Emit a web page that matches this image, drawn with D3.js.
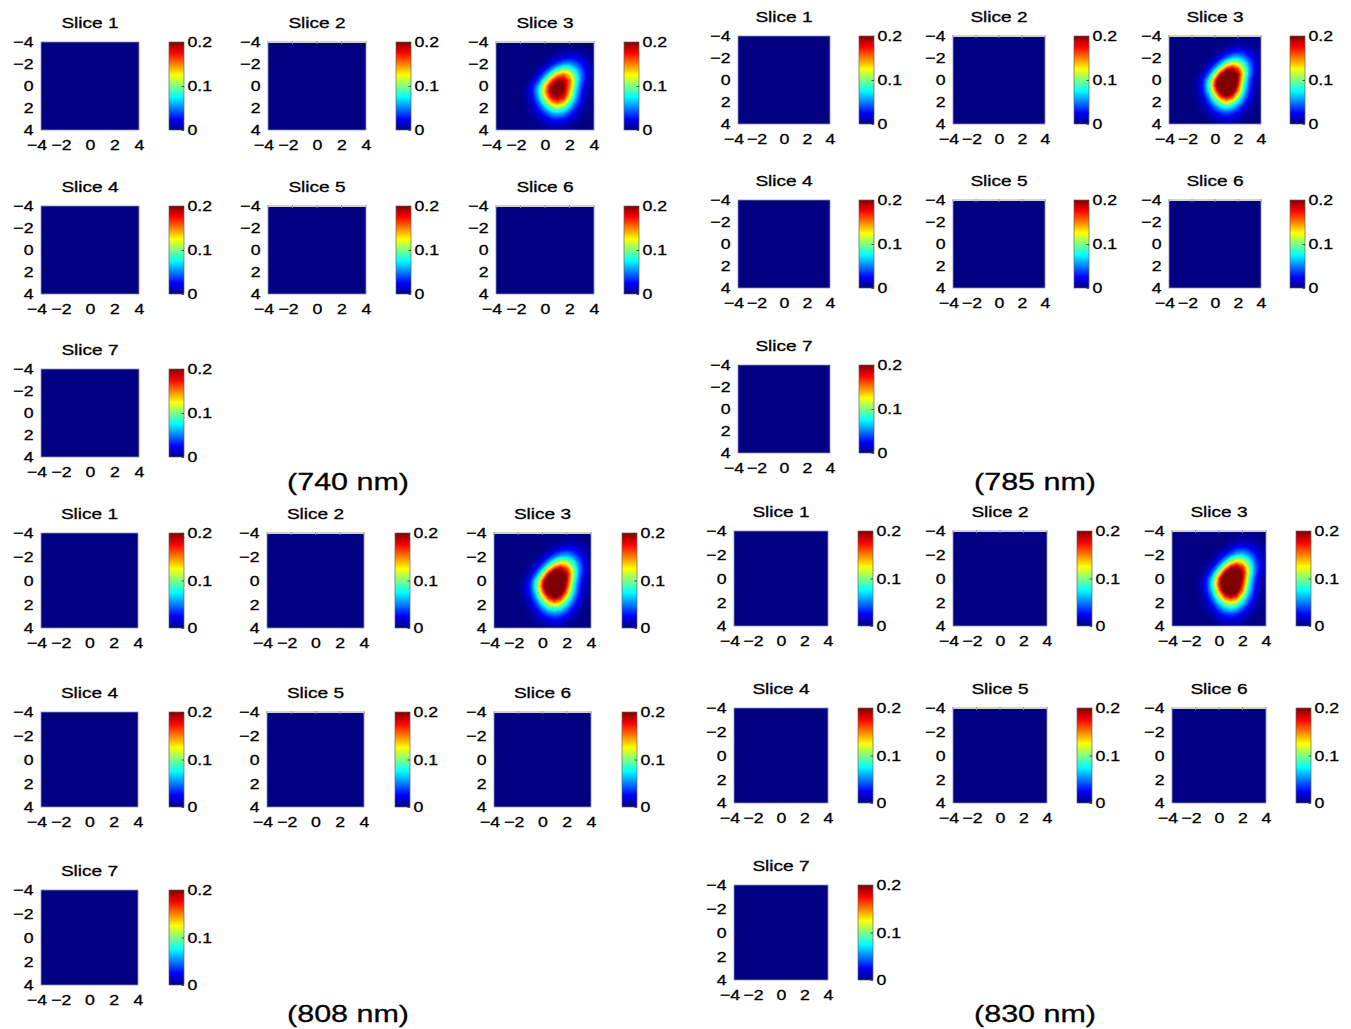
<!DOCTYPE html>
<html>
<head>
<meta charset="utf-8">
<script src="https://cdn.jsdelivr.net/npm/d3@7"></script>
<style>
  body { margin: 0; background: #fff; }
  svg { display: block; font-family: "Liberation Sans", Arial, Helvetica, sans-serif; }
</style>
</head>
<body>
<svg id="chart" width="1351" height="1029"></svg>
<script>
// ---------------- DATA ----------------
const wavelengths = ["(740 nm)", "(785 nm)", "(808 nm)", "(830 nm)"];
const sliceNames = ["Slice 1", "Slice 2", "Slice 3", "Slice 4", "Slice 5", "Slice 6", "Slice 7"];
const axisTickValues = [-4, -2, 0, 2, 4];
const axisTickLabels = ["\u22124", "\u22122", "0", "2", "4"];
const colorbarTickValues = [0, 0.1, 0.2];
const colorbarTickLabels = ["0", "0.1", "0.2"];
const colorDomain = [0, 0.2];
const axisDomain = [-4, 4];

// sample positions of the estimated Slice 3 intensity grid (outside: 0)
const gridX = [-2, -1.5, -1, -0.5, 0, 0.5, 1, 1.5, 2, 2.5, 3, 3.5, 4];
const gridY = [-4, -3.5, -3, -2.5, -2, -1.5, -1, -0.5, 0, 0.5, 1, 1.5, 2, 2.5, 3, 3.5, 4];

// Slice 3 at 740 nm (rows = gridY, cols = gridX)
const slice3Field740 = [
  [0,0,0,0,0,0,0,0,0.001,0.001,0.001,0.001,0],
  [0,0,0,0,0,0.001,0.001,0.003,0.004,0.004,0.003,0.002,0.001],
  [0,0,0,0,0.001,0.003,0.005,0.009,0.011,0.011,0.008,0.005,0.002],
  [0,0,0,0.001,0.003,0.008,0.016,0.024,0.028,0.025,0.017,0.009,0.004],
  [0,0,0.001,0.003,0.010,0.023,0.040,0.054,0.057,0.046,0.029,0.014,0.005],
  [0,0.001,0.003,0.009,0.025,0.052,0.082,0.101,0.096,0.070,0.040,0.017,0.006],
  [0,0.002,0.007,0.022,0.052,0.098,0.141,0.157,0.135,0.089,0.046,0.018,0.006],
  [0.001,0.004,0.015,0.041,0.091,0.153,0.190,0.192,0.157,0.094,0.044,0.016,0.004],
  [0.002,0.008,0.025,0.065,0.130,0.190,0.224,0.205,0.152,0.083,0.035,0.011,0.003],
  [0.002,0.009,0.029,0.073,0.139,0.196,0.223,0.196,0.139,0.073,0.029,0.009,0.002],
  [0.002,0.008,0.025,0.063,0.121,0.179,0.194,0.179,0.121,0.063,0.025,0.008,0.002],
  [0.001,0.006,0.019,0.048,0.093,0.137,0.156,0.137,0.093,0.048,0.019,0.006,0.001],
  [0.001,0.004,0.013,0.033,0.062,0.092,0.105,0.092,0.062,0.033,0.013,0.004,0.001],
  [0.001,0.002,0.008,0.019,0.037,0.055,0.062,0.055,0.037,0.019,0.008,0.002,0.001],
  [0,0.001,0.004,0.010,0.019,0.029,0.033,0.029,0.019,0.010,0.004,0.001,0],
  [0,0.001,0.002,0.005,0.009,0.013,0.015,0.013,0.009,0.005,0.002,0.001,0],
  [0,0,0.001,0.002,0.004,0.005,0.006,0.005,0.004,0.002,0.001,0,0]
];

// Slice 3 at 785 / 808 / 830 nm (larger saturated core)
const slice3FieldLong = [
  [0,0,0,0,0,0,0,0,0.001,0.002,0.001,0.001,0],
  [0,0,0,0,0,0.001,0.002,0.003,0.005,0.005,0.004,0.003,0.001],
  [0,0,0,0,0.001,0.003,0.007,0.011,0.014,0.013,0.010,0.006,0.003],
  [0,0,0,0.001,0.004,0.010,0.019,0.029,0.034,0.030,0.021,0.011,0.005],
  [0,0,0.001,0.004,0.012,0.027,0.048,0.065,0.068,0.055,0.034,0.017,0.006],
  [0,0.001,0.003,0.011,0.030,0.062,0.099,0.122,0.116,0.085,0.048,0.021,0.007],
  [0,0.002,0.008,0.026,0.063,0.118,0.170,0.189,0.163,0.108,0.055,0.022,0.007],
  [0.001,0.005,0.018,0.050,0.109,0.185,0.242,0.244,0.190,0.114,0.053,0.019,0.005],
  [0.002,0.009,0.031,0.079,0.157,0.241,0.286,0.261,0.184,0.100,0.042,0.014,0.003],
  [0.003,0.011,0.035,0.088,0.168,0.249,0.283,0.249,0.168,0.088,0.035,0.011,0.003],
  [0.002,0.010,0.031,0.076,0.146,0.216,0.246,0.216,0.146,0.076,0.031,0.010,0.002],
  [0.002,0.007,0.023,0.058,0.112,0.166,0.189,0.166,0.112,0.058,0.023,0.007,0.002],
  [0.001,0.005,0.016,0.039,0.075,0.111,0.127,0.111,0.075,0.039,0.016,0.005,0.001],
  [0.001,0.003,0.009,0.023,0.045,0.066,0.075,0.066,0.045,0.023,0.009,0.003,0.001],
  [0,0.002,0.005,0.012,0.023,0.034,0.039,0.034,0.023,0.012,0.005,0.002,0],
  [0,0.001,0.002,0.006,0.011,0.016,0.018,0.016,0.011,0.006,0.002,0.001,0],
  [0,0,0.001,0.002,0.004,0.006,0.007,0.006,0.004,0.002,0.001,0,0]
];

// per wavelength, per slice: intensity field (null = uniformly 0)
const sliceFields = [
  [null, null, slice3Field740, null, null, null, null],
  [null, null, slice3FieldLong, null, null, null, null],
  [null, null, slice3FieldLong, null, null, null, null],
  [null, null, slice3FieldLong, null, null, null, null]
];

// ---------------- LAYOUT ----------------
const blocks = [
  { cols: [41, 268, 496],   rows: [42, 206, 369],  w: 98, h: 88, cb: 128, label: [348, 490] },
  { cols: [738, 953, 1169], rows: [36, 200, 365],  w: 92, h: 88, cb: 121, label: [1035, 490] },
  { cols: [41, 267, 494],   rows: [533, 712, 890], w: 97, h: 95, cb: 128, label: [348, 1022] },
  { cols: [734, 953, 1172], rows: [531, 708, 885], w: 94, h: 95, cb: 124, label: [1035, 1022] }
];
const cbW = 15;
const tickFont = 15, tickSX = 1.18;
const titleFont = 15.5, titleSX = 1.23;
const labelFont = 24, labelSX = 1.27;
const textStroke = 0.3;

// jet colormap
function jet(t) {
  t = Math.max(0, Math.min(1, t));
  const f = v => Math.round(255 * Math.max(0, Math.min(1, v)));
  return `rgb(${f(1.5 - Math.abs(4 * t - 3))},${f(1.5 - Math.abs(4 * t - 2))},${f(1.5 - Math.abs(4 * t - 1))})`;
}
const color = d3.scaleSequential(jet).domain(colorDomain).clamp(true);

const svg = d3.select("#chart");
const defs = svg.append("defs");
const grad = defs.append("linearGradient").attr("id", "jetgrad")
  .attr("x1", 0).attr("y1", 1).attr("x2", 0).attr("y2", 0);
d3.range(0, 9).forEach(k => {
  const t = k / 8;
  grad.append("stop").attr("offset", t).attr("stop-color",
    color(colorDomain[0] + t * (colorDomain[1] - colorDomain[0])));
});

const nLevels = 80;
const thresholds = d3.range(1, nLevels + 1).map(k => colorDomain[0] + k * (colorDomain[1] - colorDomain[0]) / nLevels);

function styleText(sel, sx) {
  sel.attr("fill", "#000").attr("stroke", "#000").attr("stroke-width", textStroke)
    .attr("transform", `scale(${sx},1)`);
}

let clipId = 0;

blocks.forEach((b, bi) => {
  const bg = svg.append("g");
  sliceNames.forEach((name, si) => {
    const row = Math.floor(si / 3), col = si % 3;
    const left = b.cols[col], top = b.rows[row], w = b.w, h = b.h;
    const x = d3.scaleLinear().domain(axisDomain).range([left, left + w]);
    const y = d3.scaleLinear().domain(axisDomain).range([top, top + h]);
    const g = bg.append("g");

    // background = value 0
    g.append("rect").attr("x", left).attr("y", top).attr("width", w).attr("height", h)
      .attr("fill", color(0));

    const field = sliceFields[bi][si];
    if (field) {
      const id = "clip" + (clipId++);
      defs.append("clipPath").attr("id", id).append("rect")
        .attr("x", left).attr("y", top).attr("width", w).attr("height", h);
      const nx = gridX.length, ny = gridY.length;
      const dxs = gridX[1] - gridX[0], dys = gridY[1] - gridY[0];
      const contours = d3.contours().size([nx, ny]).thresholds(thresholds)(field.flat());
      const proj = d3.geoTransform({
        point(px, py) {
          this.stream.point(x(gridX[0] + (px - 0.5) * dxs), y(gridY[0] + (py - 0.5) * dys));
        }
      });
      const path = d3.geoPath(proj);
      g.append("g").attr("clip-path", `url(#${id})`)
        .selectAll("path").data(contours).join("path")
        .attr("d", path)
        .attr("fill", d => color(d.value))
        .attr("stroke", d => color(d.value))
        .attr("stroke-width", 0.3);
    }

    // frame
    g.append("rect").attr("x", left).attr("y", top).attr("width", w).attr("height", h)
      .attr("fill", "none").attr("stroke", "#8c92b8").attr("stroke-width", 0.8);
    if (col > 0) {
      g.append("rect").attr("x", left).attr("y", top - 1).attr("width", w).attr("height", 2)
        .attr("fill", "#d2d2d2");
      g.selectAll("line.tt").data(axisTickValues).join("line")
        .attr("x1", d => x(d)).attr("x2", d => x(d))
        .attr("y1", top - 1).attr("y2", top + 2)
        .attr("stroke", "#9a9a9a").attr("stroke-width", 0.8);
    }

    // axes
    const fmt = d => axisTickLabels[axisTickValues.indexOf(d)];
    const gx = g.append("g").attr("transform", `translate(0,${top + h})`)
      .call(d3.axisBottom(x).tickValues(axisTickValues).tickFormat(fmt).tickSize(0).tickPadding(9));
    gx.select(".domain").remove();
    gx.attr("font-size", tickFont).attr("font-family", null);
    styleText(gx.selectAll("text"), tickSX);
    gx.selectAll("text").attr("dx", d => d < 0 ? -3.8 : 0);

    const gy = g.append("g").attr("transform", `translate(${left},0)`)
      .call(d3.axisLeft(y).tickValues(axisTickValues).tickFormat(fmt).tickSize(0).tickPadding(7.5));
    gy.select(".domain").remove();
    gy.attr("font-size", tickFont).attr("font-family", null);
    styleText(gy.selectAll("text"), tickSX);
    gy.selectAll("text").attr("x", -7.5 / tickSX);

    // title
    g.append("text")
      .attr("transform", `translate(${left + w / 2},${top - 14.5}) scale(${titleSX},1)`)
      .attr("text-anchor", "middle").attr("font-size", titleFont)
      .attr("fill", "#000").attr("stroke", "#000").attr("stroke-width", textStroke)
      .text(name);

    // colorbar
    const cbLeft = left + b.cb;
    const cy = d3.scaleLinear().domain(colorDomain).range([top + h, top]);
    g.append("rect").attr("x", cbLeft).attr("y", top).attr("width", cbW).attr("height", h)
      .attr("fill", "url(#jetgrad)").attr("stroke", "#666").attr("stroke-width", 0.7);
    const cbFmt = d => colorbarTickLabels[colorbarTickValues.indexOf(d)];
    const gc = g.append("g").attr("transform", `translate(${cbLeft + cbW},0)`)
      .call(d3.axisRight(cy).tickValues(colorbarTickValues).tickFormat(cbFmt)
        .tickSizeInner(-2.5).tickSizeOuter(0).tickPadding(3.5));
    gc.select(".domain").remove();
    gc.attr("font-size", tickFont).attr("font-family", null);
    gc.selectAll("line").attr("stroke", "#333").attr("stroke-width", 0.8);
    styleText(gc.selectAll("text"), tickSX);
    gc.selectAll("text").attr("x", 3.5 / tickSX);
  });

  bg.append("text")
    .attr("transform", `translate(${b.label[0]},${b.label[1]}) scale(${labelSX},1)`)
    .attr("text-anchor", "middle").attr("font-size", labelFont)
    .attr("fill", "#000").attr("stroke", "#000").attr("stroke-width", textStroke)
    .text(wavelengths[bi]);
});
</script>
</body>
</html>
